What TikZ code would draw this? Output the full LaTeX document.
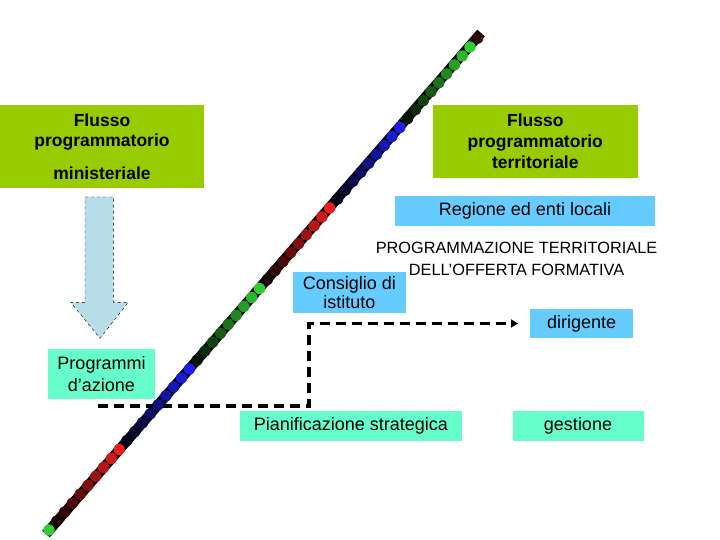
\documentclass[tikz,border=0pt]{standalone}
\usepackage{fontspec}
\setmainfont{Liberation Sans}
\usetikzlibrary{calc,arrows.meta}

\definecolor{boxgreen}{RGB}{153,204,0}
\definecolor{boxblue}{RGB}{102,204,255}
\definecolor{boxaqua}{RGB}{102,255,204}
\definecolor{arrowblue}{RGB}{183,221,232}
\definecolor{dotred}{RGB}{235,30,30}
\definecolor{dotgreen}{RGB}{50,205,50}
\definecolor{dotblue}{RGB}{30,30,235}

\tikzset{
  greenbox/.style={fill=boxgreen, inner sep=0, align=center, font=\bfseries\fontsize{17.5}{20}\selectfont},
  bluebox/.style={fill=boxblue, inner sep=0, align=center, font=\fontsize{18}{19}\selectfont},
  aquabox/.style={fill=boxaqua, inner sep=0, align=center, font=\fontsize{18}{22}\selectfont}
}

\begin{document}
\begin{tikzpicture}[x=1pt,y=-1pt]
\useasboundingbox (0,0) rectangle (720,540);
% picture in pixels, y going down

\node[greenbox, minimum width=204pt, minimum height=83pt] (flussomin) at (102,146.5) {Flusso\\programmatorio\\[13pt]ministeriale};
\node[greenbox, minimum width=205pt, minimum height=73pt, font=\bfseries\fontsize{17.5}{21}\selectfont] (flussoterr) at (535.3,141.4) {Flusso\\programmatorio\\territoriale};
\node[bluebox, minimum width=260pt, minimum height=30pt] (regione) at (525,211) {Regione ed enti locali};
\node[inner sep=0, align=center, font=\fontsize{16.3}{22}\selectfont] (offerta) at (516.5,259) {PROGRAMMAZIONE TERRITORIALE\\DELL’OFFERTA FORMATIVA};
\node[bluebox, minimum width=113pt, minimum height=41.5pt] (consiglio) at (349.3,292.3) {Consiglio di\\istituto};
\node[bluebox, minimum width=103pt, minimum height=29pt] (dirigente) at (581.7,323.5) {dirigente};
\node[aquabox, minimum width=107pt, minimum height=50pt] (programmi) at (101.5,374) {Programmi\\d’azione};
\node[aquabox, minimum width=222pt, minimum height=30pt] (pianif) at (350.8,426) {Pianificazione strategica};
\node[aquabox, minimum width=131pt, minimum height=30pt] (gestione) at (578,426) {gestione};

% big down arrow
\draw[dashed, thin, fill=arrowblue] (85,197) -- (113.3,197) -- (113.3,302.3) -- (128.3,302.3)
  -- (100,338.3) -- (70.7,302.3) -- (85,302.3) -- cycle;

% dashed connector
\coordinate (dashstart) at (98,406);
\draw[line width=3.5pt, dash pattern=on 10pt off 6pt, -{Triangle[length=7pt,width=8pt]}]
  (dashstart) -- (309,406) |- ([xshift=-12pt]dirigente.west);

% diagonal with dots
\coordinate (diagA) at (46,534);
\coordinate (diagB) at (481,33);
\coordinate (g0) at (49,530);
\coordinate (g6) at (470,47);
\draw[line width=10pt] (diagA) -- (diagB);
\foreach \k/\c in {1/dotred,2/dotblue,3/dotgreen,4/dotred,5/dotblue,6/dotgreen}
  \foreach \i in {1,...,9} {
    \pgfmathsetmacro\f{(\k-1+\i/9)/6}
    \pgfmathtruncatemacro\p{100*\i/9}
    \fill[\c!\p!black] ($(g0)!\f!(g6)$) circle (5.7);
  }
\fill[dotgreen] (g0) circle (5.7);
\fill[dotred!20!black] ($(g0)!1.0185!(g6)$) circle (5.7);
\end{tikzpicture}
\end{document}
